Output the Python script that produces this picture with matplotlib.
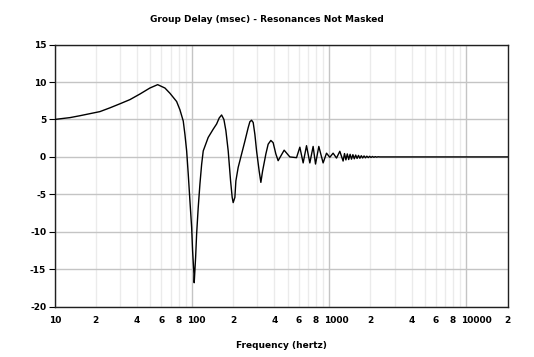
import matplotlib
matplotlib.use("Agg")
import matplotlib.pyplot as plt
import matplotlib.transforms as mtransforms
from matplotlib.ticker import FixedLocator, FixedFormatter, NullLocator

# group delay curve (Hz, msec)
freq = [10, 12.97, 15.3, 21.4, 25.3, 30.0, 35.4, 41.9, 49.5, 56.4, 63.7, 69.3,
        77.5, 81.9, 86.6, 89.1, 91.7, 94.2, 96.9, 99.7, 101.3, 103.6, 104.1,
        106.6, 108.4, 111.3, 114.6, 117.9, 121.1, 131.6, 143.1, 151.6, 158.3,
        164.8, 171.3, 177.1, 184.1, 191.6, 196.8, 200.1, 205.9, 209.4, 217.6,
        243.5, 257.3, 264.8, 272.4, 279.9, 288.0, 296.3, 309.5, 318.4, 327.6,
        346.3, 359.8, 376.5, 391.2, 409.3, 425.4, 470.5, 517.6, 579.0, 612.2,
        647.1, 684.7, 723.8, 764.9, 796.2, 841.4, 904.4, 957.4, 1011.8, 1069.3,
        1132.2, 1196.6, 1264.6, 1294.6, 1325.4, 1356.9, 1388.9, 1421.9, 1455.6,
        1490.2, 1525.6, 1561.9, 1598.9, 1636.9, 1675.8, 1715.6, 1755.3, 1797.0,
        1839.7, 1883.4, 1928.1, 1973.9, 2020.8, 2068.8, 2118.0, 2167.8, 2219.2,
        2271.9, 2338.8, 5000, 10000, 20000]
delay = [5.0, 5.25, 5.5, 6.05, 6.55, 7.1, 7.65, 8.4, 9.2, 9.65, 9.2, 8.5,
         7.4, 6.3, 4.8, 3.0, 0.8, -2.3, -5.9, -9.4, -12.5, -15.6, -16.8,
         -13.4, -10.3, -6.8, -3.6, -1.0, 0.8, 2.6, 3.7, 4.4, 5.2,
         5.6, 5.0, 3.5, 0.8, -3.2, -5.4, -6.1, -5.4, -3.2, -1.4,
         2.1, 3.9, 4.7, 4.9, 4.6, 3.0, 0.8, -1.9, -3.4, -1.9,
         0.4, 1.7, 2.2, 1.9, 0.4, -0.5, 0.9, 0.0, -0.1, 1.3,
         -0.8, 1.5, -0.8, 1.4, -0.95, 1.4, -0.8, 0.5, -0.05, 0.5,
         -0.15, 0.75, -0.55, 0.45, -0.4, 0.4, -0.35, 0.35, -0.3,
         0.3, -0.25, 0.25, -0.2, 0.2, -0.18, 0.16, -0.14, 0.13,
         -0.12, 0.1, -0.09, 0.08, -0.07, 0.06, -0.05, 0.04, -0.03,
         0.02, 0.0, 0.0, 0.0, 0.0]

xmajor = [10, 100, 1000, 10000]
xlabeled = [10, 20, 40, 60, 80, 100, 200, 400, 600, 800, 1000, 2000, 4000,
            6000, 8000, 10000, 20000]
xlabels = ['10', '2', '4', '6', '8', '100', '2', '4', '6', '8', '1000', '2',
           '4', '6', '8', '10000', '2']
yticks = [-20, -15, -10, -5, 0, 5, 10, 15]

plt.rcParams['font.family'] = 'DejaVu Sans'
plt.rcParams['font.weight'] = 'bold'

fig = plt.figure(figsize=(5.34, 3.57), dpi=100)
ax = fig.add_axes([0.1021, 0.1409, 0.8487, 0.7342])

# light minor grid at every 2..9 multiple, darker at decades and y ticks
minors = [m * d for d in [10, 100, 1000] for m in range(2, 10)] + [20000]
for x in minors:
    ax.axvline(x, color='#ebebeb', lw=1, zorder=0)
for x in xmajor:
    ax.axvline(x, color='#c4c4c4', lw=1, zorder=0)
for y in yticks:
    ax.axhline(y, color='#c4c4c4', lw=1, zorder=0)

ax.plot(freq, delay, color='black', lw=1.0, zorder=3)

ax.set_xscale('log')
ax.set_xlim(10, 20000)
ax.set_ylim(-20, 15)
ax.xaxis.set_major_locator(FixedLocator(xlabeled))
ax.xaxis.set_major_formatter(FixedFormatter(xlabels))
ax.xaxis.set_minor_locator(NullLocator())
ax.set_yticks(yticks)
ax.set_yticklabels([str(v) for v in yticks])
ax.tick_params(axis='x', length=0, pad=7, labelsize=6.5)
ax.tick_params(axis='y', length=4, width=0.8, pad=2, labelsize=6.5)

# decade labels sit left-aligned just before their grid line
shift = mtransforms.ScaledTranslation(-5 / 100, 0, fig.dpi_scale_trans)
for lab, txt in zip(ax.get_xticklabels(), xlabels):
    if len(txt) > 1:
        lab.set_horizontalalignment('left')
        lab.set_transform(lab.get_transform() + shift)

for s in ax.spines.values():
    s.set_color('#202020')
    s.set_linewidth(1)

# title is centred on the whole picture, not on the plot box
fig.text(0.5, 0.944, 'Group Delay (msec) - Resonances Not Masked', fontsize=6.5,
         fontweight='bold', ha='center', va='center')
ax.set_xlabel('Frequency (hertz)', fontsize=6.5, fontweight='bold', labelpad=11)

plt.savefig('out.png', dpi=100)
